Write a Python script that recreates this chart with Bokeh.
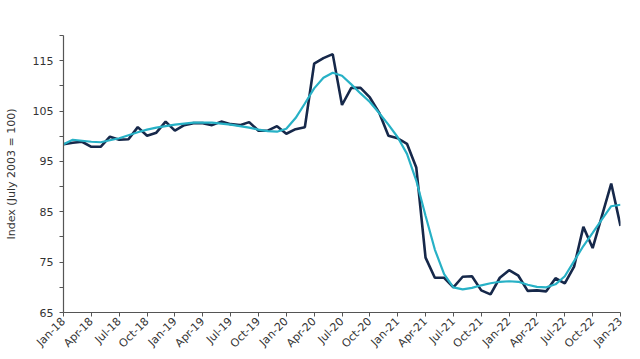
from bokeh.plotting import figure
from bokeh.models import FixedTicker, ColumnDataSource
from bokeh.embed import file_html
from bokeh.resources import INLINE
import math

# Monthly data, Jan-18 .. Jan-23 (61 months)
month_index = list(range(61))
actual = [98.4, 98.7, 98.9, 97.9, 97.9, 99.9, 99.3, 99.4, 101.8, 100.1,
          100.7, 102.9, 101.1, 102.2, 102.6, 102.6, 102.2, 102.9, 102.4, 102.2,
          102.8, 101.1, 101.1, 102.0, 100.5, 101.4, 101.8, 114.4, 115.5, 116.3,
          106.2, 109.6, 109.6, 107.7, 104.7, 100.1, 99.6, 98.5, 93.8, 75.9,
          71.9, 71.9, 70.0, 72.1, 72.2, 69.4, 68.6, 71.9, 73.4, 72.3,
          69.3, 69.4, 69.2, 71.8, 70.8, 74.1, 82.0, 77.8, 84.2, 90.6,
          82.2]
trend = [98.4, 99.3, 99.1, 98.9, 98.8, 99.2, 99.6, 100.2, 100.8, 101.3,
         101.7, 102.0, 102.3, 102.5, 102.7, 102.7, 102.7, 102.5, 102.3, 102.0,
         101.7, 101.3, 101.0, 100.9, 101.5, 103.6, 106.5, 109.5, 111.6, 112.6,
         112.0, 110.3, 108.5, 106.8, 104.6, 102.3, 99.8, 96.5, 91.2, 84.2,
         77.5, 72.6, 70.0, 69.6, 69.9, 70.4, 70.8, 71.1, 71.2, 71.1,
         70.5, 70.1, 70.0, 70.6, 72.2, 75.2, 78.2, 80.8, 83.5, 86.1,
         86.4]
tick_positions = list(range(0, 61, 3))
tick_labels = ["Jan-18", "Apr-18", "Jul-18", "Oct-18", "Jan-19", "Apr-19", "Jul-19",
               "Oct-19", "Jan-20", "Apr-20", "Jul-20", "Oct-20", "Jan-21", "Apr-21",
               "Jul-21", "Oct-21", "Jan-22", "Apr-22", "Jul-22", "Oct-22", "Jan-23"]
y_major = [65, 75, 85, 95, 105, 115]
y_minor = [70, 80, 90, 100, 110, 120]

src = ColumnDataSource(dict(x=month_index, actual=actual, trend=trend))

p = figure(width=640, height=359, output_backend="svg", toolbar_location=None,
           x_range=(0, 60), y_range=(65, 120),
           min_border_left=63, min_border_right=20, min_border_top=35, min_border_bottom=47)
p.outline_line_color = None
p.xgrid.visible = False
p.ygrid.visible = False

p.line("x", "actual", source=src, line_color="#16284a", line_width=2.6)
p.line("x", "trend", source=src, line_color="#27b1c6", line_width=2.2)

FONT = "DejaVu Sans"
AX = "#555555"

xa = p.xaxis[0]
xa.ticker = FixedTicker(ticks=tick_positions)
xa.major_label_overrides = {pos: lab for pos, lab in zip(tick_positions, tick_labels)}
xa.major_label_orientation = math.pi / 4
xa.major_label_text_font = FONT
xa.major_label_text_font_size = "11px"
xa.major_label_text_color = "#333333"
xa.major_tick_in = 0
xa.major_tick_out = 4
xa.minor_tick_out = 0
xa.minor_tick_in = 0
xa.axis_line_color = AX
xa.major_tick_line_color = AX
xa.axis_line_width = 1.2
xa.major_label_standoff = 3

ya = p.yaxis[0]
ya.ticker = FixedTicker(ticks=y_major, minor_ticks=y_minor)
ya.major_label_text_font = FONT
ya.major_label_text_font_size = "11px"
ya.major_label_text_color = "#333333"
ya.major_tick_in = 0
ya.major_tick_out = 4
ya.minor_tick_in = 0
ya.minor_tick_out = 4
ya.minor_tick_line_color = AX
ya.major_tick_line_color = AX
ya.axis_line_color = AX
ya.axis_line_width = 1.2
ya.major_label_standoff = 6
ya.axis_label = "Index (July 2003 = 100)"
ya.axis_label_text_font = FONT
ya.axis_label_text_font_size = "11px"
ya.axis_label_text_font_style = "normal"
ya.axis_label_text_color = "#333333"
ya.axis_label_standoff = 12

open("out.html", "w").write(file_html(p, INLINE))
